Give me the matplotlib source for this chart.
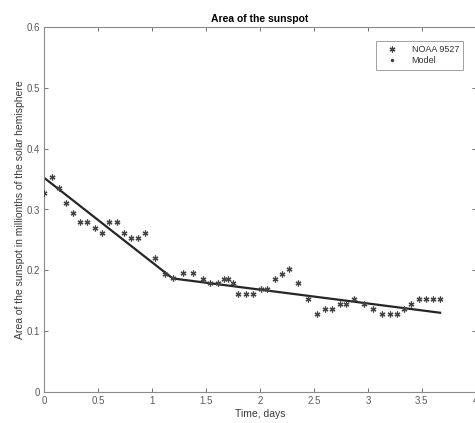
import matplotlib as mpl
import matplotlib.pyplot as plt
from matplotlib.lines import Line2D

mpl.rcParams["font.family"] = ["Liberation Sans", "DejaVu Sans"]

# observed area (NOAA 9527), millionths of the solar hemisphere
obs_t = [0.0, 0.068, 0.136, 0.2, 0.265, 0.333, 0.4, 0.468, 0.536, 0.603,
         0.671, 0.739, 0.80, 0.868, 0.936, 1.022, 1.115, 1.19, 1.29, 1.376,
         1.468, 1.536, 1.607, 1.662, 1.705, 1.752, 1.80, 1.869, 1.937, 2.007,
         2.068, 2.137, 2.201, 2.269, 2.355, 2.447, 2.53, 2.601, 2.669, 2.737,
         2.798, 2.872, 2.961, 3.044, 3.13, 3.20, 3.269, 3.337, 3.40, 3.469,
         3.536, 3.60, 3.669]
obs_v = [0.327, 0.353, 0.335, 0.311, 0.294, 0.279, 0.279, 0.269, 0.262, 0.279,
         0.279, 0.262, 0.253, 0.253, 0.262, 0.220, 0.194, 0.187, 0.195, 0.195,
         0.186, 0.179, 0.179, 0.186, 0.186, 0.179, 0.161, 0.161, 0.161, 0.169,
         0.169, 0.186, 0.1945, 0.202, 0.179, 0.153, 0.1275, 0.136, 0.136, 0.1445,
         0.1445, 0.153, 0.1445, 0.136, 0.1275, 0.1275, 0.1275, 0.136, 0.1445, 0.152,
         0.152, 0.152, 0.152]

# piecewise linear model
model_t = [0.0, 1.19, 3.669]
model_v = [0.352, 0.1865, 0.130]

xticks = [0, 0.5, 1, 1.5, 2, 2.5, 3, 3.5, 4]
yticks = [0, 0.1, 0.2, 0.3, 0.4, 0.5, 0.6]

GRAY = "#5a5a5a"
ASTERISK = (6, 2, 0)

fig = plt.figure(figsize=(4.75, 4.23), dpi=100)
ax = fig.add_axes([44.3 / 475, 1 - 391.7 / 423, (475.8 - 44.3) / 475, (391.7 - 27.3) / 423])

ax.plot(model_t, model_v, color="#262626", lw=1.6, zorder=2)
ax.plot(obs_t, obs_v, ls="none", marker=ASTERISK, ms=4.2, color="#444444",
        markeredgewidth=0.9, zorder=3)

ax.set_xlim(0, 4)
ax.set_ylim(0, 0.6)
ax.set_xticks(xticks)
ax.set_yticks(yticks)
ax.set_xticklabels(["0", "0.5", "1", "1.5", "2", "2.5", "3", "3.5", "4"])
ax.set_yticklabels(["0", "0.1", "0.2", "0.3", "0.4", "0.5", "0.6"])
ax.tick_params(direction="in", top=True, right=True, length=3, width=0.6,
               colors=GRAY, labelsize=7, pad=3)
for s in ax.spines.values():
    s.set_color("#8a8a8a")
    s.set_linewidth(0.8)

ax.set_xlabel("Time, days", fontsize=7.5, color="#3a3a3a", labelpad=2)
ax.set_ylabel("Area of the sunspot in millionths of the solar hemisphere",
              fontsize=7.5, color="#3a3a3a", labelpad=1)
ax.set_title("Area of the sunspot", fontsize=7.5, fontweight="bold", pad=4)

handles = [
    Line2D([], [], ls="none", marker=ASTERISK, ms=4.2, color="#444444", markeredgewidth=0.9),
    Line2D([], [], ls="none", marker=".", ms=3, color="#444444"),
]
leg = ax.legend(handles, ["NOAA 9527", "Model"], loc="upper right",
                bbox_to_anchor=(468 / 475, 1 - 36 / 423), bbox_transform=fig.transFigure,
                fontsize=6.5, frameon=True, fancybox=False, handlelength=2.4,
                borderpad=0.5, labelspacing=0.25, handletextpad=1.0)
leg.get_frame().set_edgecolor("#8a8a8a")
leg.get_frame().set_linewidth(0.7)
for t in leg.get_texts():
    t.set_color("#333333")

fig.savefig("out.png", dpi=100)
